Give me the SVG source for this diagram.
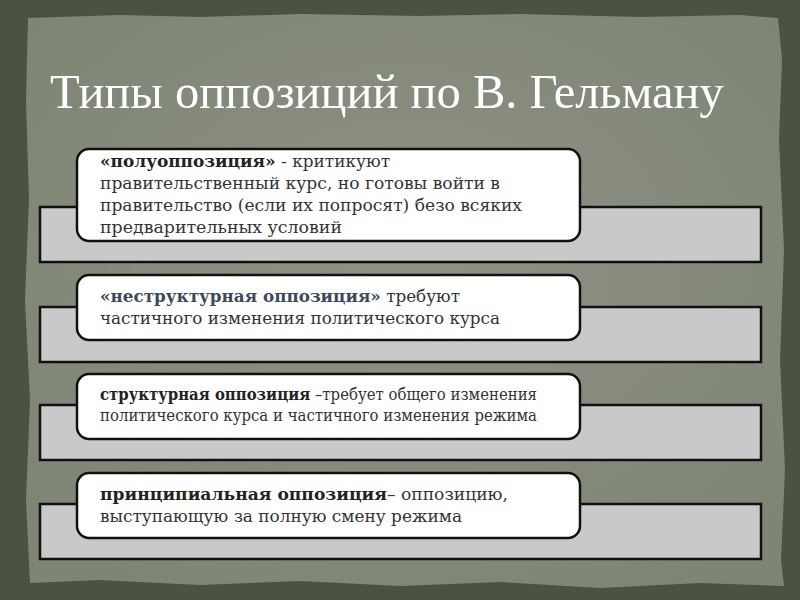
<svg xmlns="http://www.w3.org/2000/svg" width="800" height="600" viewBox="0 0 800 600">
<defs>
<radialGradient id="bg" cx="50%" cy="45%" r="65%">
<stop offset="0" stop-color="#8d9284"/>
<stop offset="1" stop-color="#7f8575"/>
</radialGradient>
<style>
.bar{fill:#c9c9c9;stroke:#111;stroke-width:2.5}
.box{fill:#ffffff;stroke:#111;stroke-width:2.5}
.t{font-family:"DejaVu Serif","Liberation Serif",serif;font-size:16px;fill:#333}
.b{font-weight:bold;fill:#222}
.bb{font-weight:bold;fill:#3a4a5c}
</style>
</defs>
<rect width="800" height="600" fill="#4c5243"/>
<path d="M28,18 L120,15 L200,17 L300,14 L420,16 L520,14 L640,17 L740,15 L778,18 L782,60 L779,140 L784,250 L780,360 L785,470 L781,560 L784,586 L700,583 L600,588 L500,582 L400,586 L300,581 L200,585 L100,580 L30,583 L26,500 L30,400 L25,300 L29,200 L26,100 Z" fill="url(#bg)"/>
<text x="50" y="108" font-family="Liberation Serif, serif" font-size="48.5" fill="#ffffff">Типы оппозиций по В. Гельману</text>
<g id="connectors"></g>
<g id="node1">
<rect class="bar" x="40" y="207" width="721" height="55"/>
<rect class="box" x="77" y="149" width="503" height="92" rx="12"/>
<text class="t" x="100" y="167" textLength="290" lengthAdjust="spacingAndGlyphs"><tspan class="b">«полуоппозиция»</tspan> - критикуют</text>
<text class="t" x="100" y="189" textLength="400" lengthAdjust="spacingAndGlyphs">правительственный курс, но готовы войти в</text>
<text class="t" x="100" y="211" textLength="422" lengthAdjust="spacingAndGlyphs">правительство (если их попросят) безо всяких</text>
<text class="t" x="100" y="233" textLength="242" lengthAdjust="spacingAndGlyphs">предварительных условий</text>
</g>
<g id="node2">
<rect class="bar" x="40" y="307" width="721" height="55"/>
<rect class="box" x="77" y="275" width="503" height="65" rx="12"/>
<text class="t" x="100" y="302" textLength="360" lengthAdjust="spacingAndGlyphs"><tspan class="bb">«неструктурная оппозиция»</tspan> требуют</text>
<text class="t" x="100" y="324" textLength="400" lengthAdjust="spacingAndGlyphs">частичного изменения политического курса</text>
</g>
<g id="node3">
<rect class="bar" x="40" y="405" width="721" height="55"/>
<rect class="box" x="77" y="374" width="503" height="65" rx="12"/>
<text class="t" x="100" y="400" font-size="15" textLength="437" lengthAdjust="spacingAndGlyphs"><tspan class="b">структурная оппозиция</tspan> –требует общего изменения</text>
<text class="t" x="100" y="421" font-size="15" textLength="437" lengthAdjust="spacingAndGlyphs">политического курса и частичного изменения режима</text>
</g>
<g id="node4">
<rect class="bar" x="40" y="504" width="721" height="55"/>
<rect class="box" x="77" y="473" width="503" height="65" rx="12"/>
<text class="t" x="100" y="500" textLength="408" lengthAdjust="spacingAndGlyphs"><tspan class="b">принципиальная оппозиция</tspan>– оппозицию,</text>
<text class="t" x="100" y="522" textLength="362" lengthAdjust="spacingAndGlyphs">выступающую за полную смену режима</text>
</g>
</svg>
